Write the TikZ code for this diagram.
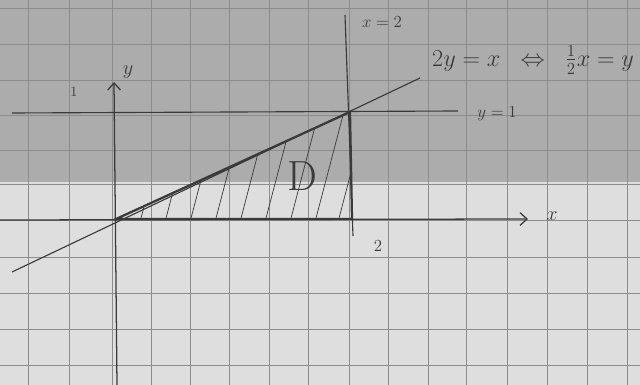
\documentclass[tikz,border=0pt]{standalone}
\usepackage{amsmath}
\usetikzlibrary{arrows.meta}
\definecolor{penc}{HTML}{3A3A3A}
\definecolor{gridc}{HTML}{8C8C8C}
\definecolor{shadowc}{HTML}{ACACAC}
\definecolor{paperc}{HTML}{DEDEDE}
\begin{document}
\begin{tikzpicture}[x=0.025cm,y=-0.025cm,
  gridline/.style={draw=gridc,line width=0.5pt},
  penline/.style={draw=penc,line width=0.8pt},
  boldline/.style={draw=penc,line width=1.6pt,line cap=round},
  hatchline/.style={draw=penc,line width=0.5pt},
  axisline/.style={draw=penc,line width=0.9pt,-{Straight Barb[length=5pt,width=9pt]}},
  lbl/.style={text=penc,inner sep=0pt,font=\large}]
\useasboundingbox (0,0) rectangle (640,385);
\fill[paperc] (0,0) rectangle (640,385);
\fill[shadowc] (0,0) rectangle (640,182);
% grid paper
\foreach \gx in {28,69,112,151,190,229,269,308,349,388,428,466,507,547,587,627}
  \draw[gridline] (\gx,0) -- (\gx,385);
\foreach \gy in {8,44,80,115,150,184,220,257,293,329,365}
  \draw[gridline] (0,\gy) -- (640,\gy);
% key points
\coordinate (O) at (116,219);
\coordinate (P) at (350,112);
\coordinate (Q) at (352,219);
\coordinate (xs) at (0,220);   \coordinate (xe) at (528,219);
\coordinate (ys) at (117,385); \coordinate (ye) at (114,82);
\coordinate (vs) at (345,15);  \coordinate (ve) at (353,236);
\coordinate (hs) at (12,113);  \coordinate (he) at (458,111);
\coordinate (ls) at (12,272);  \coordinate (le) at (420,78);
% hatching of D
\begin{scope}
  \clip (O) -- (P) -- (Q) -- cycle;
  \foreach \hx in {140,165,190,215,240,265,290,315,338}
    \draw[hatchline] (\hx,222) -- (\hx+32,100);
\end{scope}
% lines
\draw[axisline] (xs) -- (xe);
\draw[axisline] (ys) -- (ye);
\draw[penline] (vs) -- (ve);
\draw[penline] (hs) -- (he);
\draw[penline] (ls) -- (le);
% boundary of D
\draw[boldline] (O) -- (P) -- (Q) -- cycle;
% labels
\node[lbl] (lx2) at (382,22) {$x=2$};
\node[lbl] (ly1) at (497,114) {$y=1$};
\node[lbl,font=\LARGE] (leq) at (533,60) {$2y=x \;\;\Leftrightarrow\;\; \tfrac{1}{2}x=y$};
\node[lbl,font=\Large] (lxx) at (552,216) {$x$};
\node[lbl,font=\Large] (lyy) at (128,72) {$y$};
\node[lbl,font=\normalsize] (l1) at (74,92) {1};
\node[lbl] (l2) at (378,246) {2};
\node[lbl,font=\fontsize{30}{32}\selectfont] (lD) at (302,176) {D};
\end{tikzpicture}
\end{document}
